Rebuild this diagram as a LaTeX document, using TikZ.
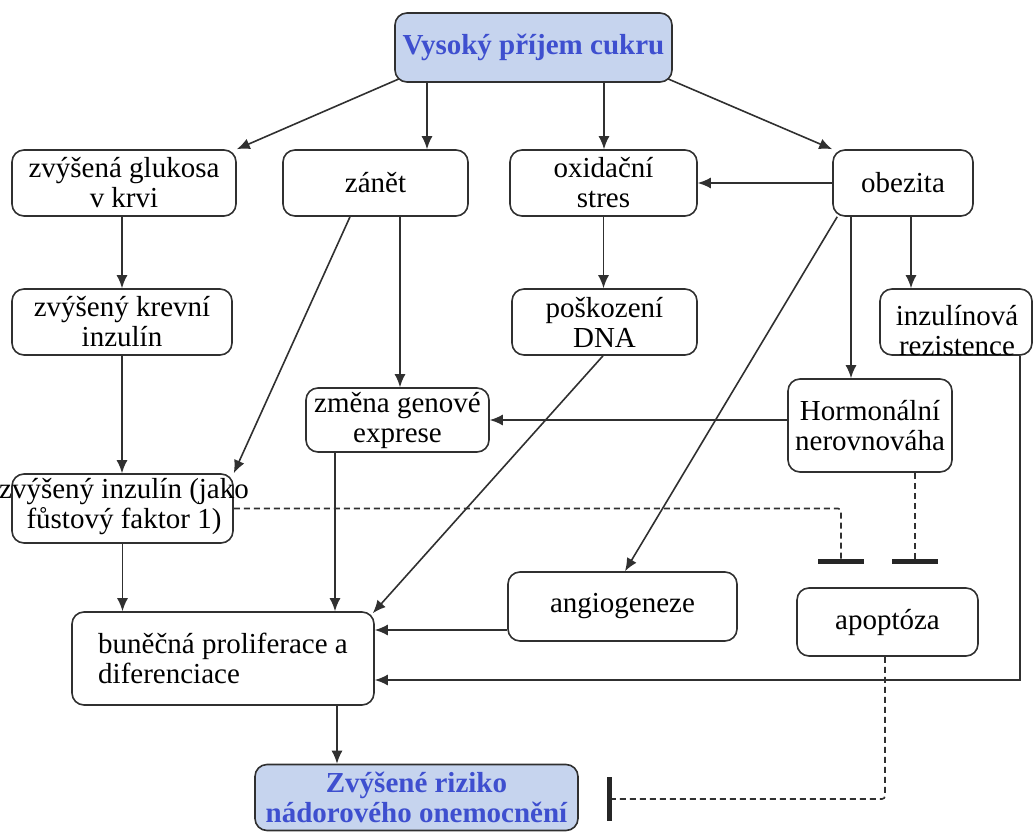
\documentclass[tikz,border=0pt]{standalone}
\usepackage{fontspec}
\setmainfont{Liberation Serif}
\usetikzlibrary{arrows.meta}
\definecolor{ln}{HTML}{303030}
\definecolor{hfill}{HTML}{C6D4EE}
\definecolor{htext}{HTML}{3E4FCF}
\begin{document}
\begin{tikzpicture}[x=1pt,y=-1pt,
  box/.style={draw=ln, line width=1.6pt, rounded corners=12pt, fill=white, align=center, inner sep=0pt, font=\fontsize{29}{30}\selectfont},
  hbox/.style={box, fill=hfill, text=htext, font=\fontsize{29}{30}\selectfont\bfseries},
  txt/.style={align=center, inner sep=0pt, font=\fontsize{29}{30}\selectfont},
  arr/.style={draw=ln, line width=1.6pt, -{Latex[length=13pt,width=11pt]}},
  inh/.style={draw=ln, line width=1.6pt, dash pattern=on 6pt off 4pt, rounded corners=3pt},
  tbar/.style={draw=black!85, line width=5pt}]
\useasboundingbox (0,0) rectangle (1035,832);

% nodes
\node[hbox, minimum width=277pt, minimum height=69pt] (top) at (533.5,47.5) {Vysoký příjem cukru};
\node[box, minimum width=224pt, minimum height=66pt] (gluk) at (124,183) {zvýšená glukosa\\v krvi};
\node[box, minimum width=185pt, minimum height=66pt] (zanet) at (375.5,183) {zánět};
\node[box, minimum width=187pt, minimum height=66pt] (oxid) at (603.5,183) {oxidační\\stres};
\node[box, minimum width=140pt, minimum height=66pt] (obez) at (903,183) {obezita};
\node[box, minimum width=220pt, minimum height=66pt] (krev) at (122,322) {zvýšený krevní\\inzulín};
\node[box, minimum width=185pt, minimum height=66pt] (dna) at (604.5,322) {poškození\\DNA};
\node[box, minimum width=152pt, minimum height=66pt] (rez) at (956,322) {};
\node[txt] (reztxt) at (957,331) {inzulínová\\rezistence};
\node[box, minimum width=164pt, minimum height=93pt] (horm) at (870,425.5) {Hormonální\\nerovnováha};
\node[box, minimum width=183pt, minimum height=64pt] (zmena) at (397.5,420) {změna genové\\exprese};
\node[box, minimum width=221pt, minimum height=69pt] (zvins) at (122.5,508.5) {};
\node[txt] (zvinstxt) at (124,507) {zvýšený inzulín (jako\\fůstový faktor 1)};
\node[box, minimum width=229pt, minimum height=69pt] (angio) at (622.5,606.5) {angiogeneze};
\node[box, minimum width=181pt, minimum height=68pt] (apop) at (887.5,622) {apoptóza};
\node[box, minimum width=302pt, minimum height=93pt, align=left] (prolif) at (223,658.5) {buněčná proliferace a\\diferenciace};
\node[hbox, minimum width=323pt, minimum height=66pt] (bot) at (416.5,797.5) {Zvýšené riziko\\nádorového onemocnění};

% arrows
\draw[arr] ([shift={(5,-4)}]top.south west) -- (gluk.north east);
\draw[arr] ([xshift=-106.5pt]top.south) -- ([xshift=51.5pt]zanet.north);
\draw[arr] ([xshift=70.5pt]top.south) -- ([xshift=0.5pt]oxid.north);
\draw[arr] ([shift={(-5,-4)}]top.south east) -- (obez.north west);
\draw[arr] (obez.west) -- (oxid.east);
\draw[arr] ([xshift=-2pt]gluk.south) -- (krev.north);
\draw[arr] (oxid.south) -- (oxid.south |- dna.north);
\draw[arr] ([xshift=8pt]obez.south) -- ([xshift=-45pt]rez.north);
\draw[arr] ([xshift=-52pt]obez.south) -- ([xshift=-19pt]horm.north);
\draw[arr] ([xshift=5pt]obez.south west) -- ([xshift=2.5pt]angio.north);
\draw[arr] ([xshift=24.5pt]zanet.south) -- ([xshift=2.5pt]zmena.north);
\draw[arr] ([xshift=-25.5pt]zanet.south) -- (zvins.north east);
\draw[arr] (krev.south) -- (krev.south |- zvins.north);
\draw[arr] (horm.west |- zmena.east) -- (zmena.east);
\draw[arr] ([xshift=-62.5pt]zmena.south) coordinate (z1) -- (z1 |- prolif.north);
\draw[arr] ([xshift=-1.5pt]dna.south) -- ([shift={(-2,2)}]prolif.north east);
\draw[arr] (zvins.south) -- (zvins.south |- prolif.north);
\draw[arr] ([yshift=-23.5pt]angio.west) coordinate (a1) -- (a1 -| prolif.east);
\draw[arr] ([xshift=64pt]rez.south) |- ([yshift=-21.5pt]prolif.east);
\draw[arr] ([xshift=114pt]prolif.south) coordinate (p1) -- (p1 |- bot.north);

% inhibition
\coordinate (b1) at (841,561);
\coordinate (b2) at (915,561);
\coordinate (b3) at (609,799);
\draw[inh] (zvins.east) -| (b1);
\draw[inh] ([xshift=45pt]horm.south) -- (b2);
\draw[inh] ([xshift=-2.5pt]apop.south) |- (b3);
\draw[tbar] ([xshift=-23pt]b1) -- ([xshift=23pt]b1);
\draw[tbar] ([xshift=-23pt]b2) -- ([xshift=23pt]b2);
\draw[tbar] ([yshift=22pt]b3) -- ([yshift=-22pt]b3);
\end{tikzpicture}
\end{document}
